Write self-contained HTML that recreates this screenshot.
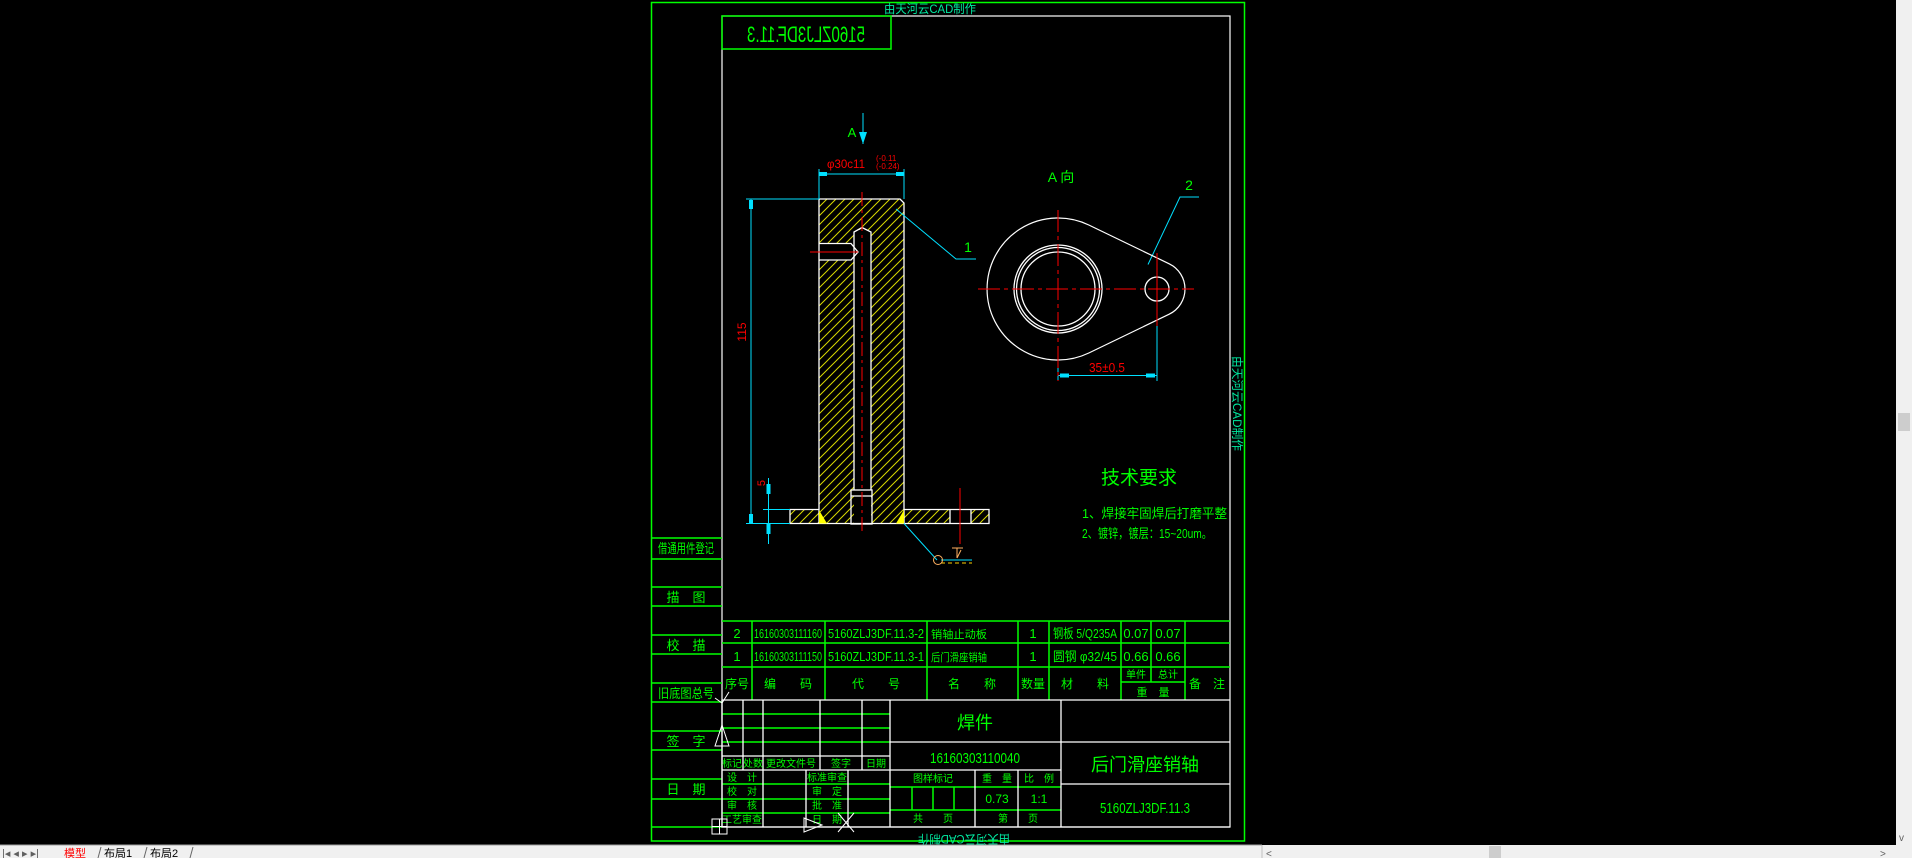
<!DOCTYPE html>
<html><head><meta charset="utf-8"><style>
html,body{margin:0;padding:0;background:#000;overflow:hidden}
svg{display:block}
text{font-family:"Liberation Sans","Noto Sans CJK SC",sans-serif;fill:#00ff00}
.c{text-anchor:middle}
.r{fill:#ff0000}
</style></head><body>
<svg width="1912" height="858" viewBox="0 0 1912 858" xmlns="http://www.w3.org/2000/svg">
<defs>
<pattern id="h" patternUnits="userSpaceOnUse" width="9" height="9">
<path d="M0 9L9 0M-2 2L2 -2M7 11L11 7" stroke="#d8d800" stroke-width="1"/>
</pattern>
</defs>
<rect width="1912" height="858" fill="#000"/>
<!-- frames -->
<rect x="651.5" y="2.5" width="593" height="838.5" fill="none" stroke="#00ff00" stroke-width="1.5"/>
<rect x="722" y="16" width="508" height="811" fill="none" stroke="#fff" stroke-width="1.2"/>
<rect x="722" y="16" width="169" height="33" fill="none" stroke="#00ff00" stroke-width="1.5"/>
<text x="806" y="42" class="c" font-size="22" transform="translate(1612 0) scale(-1 1)" textLength="118" lengthAdjust="spacingAndGlyphs">5160ZLJ3DF.11.3</text>
<text x="930" y="13" class="c" font-size="12" style="fill:#00e8a0" textLength="92" lengthAdjust="spacingAndGlyphs">由天河云CAD制作</text>
<text x="0" y="0" font-size="12" style="fill:#00e8a0" transform="translate(1233 356) rotate(90)" textLength="95" lengthAdjust="spacingAndGlyphs">由天河云CAD制作</text>
<text x="0" y="0" class="c" font-size="12" style="fill:#00e8a0" transform="translate(964 835) scale(-1 -1)" textLength="92" lengthAdjust="spacingAndGlyphs">由天河云CAD制作</text>

<!-- part section -->
<rect x="819" y="199" width="85" height="325" fill="url(#h)"/>
<rect x="790" y="509.5" width="29" height="14" fill="url(#h)"/>
<rect x="904" y="509.5" width="46" height="14" fill="url(#h)"/>
<rect x="971" y="509.5" width="18" height="14" fill="url(#h)"/>
<rect x="854" y="230" width="17" height="294" fill="#000"/>
<rect x="819" y="243.5" width="36" height="16.5" fill="#000"/>
<g fill="none" stroke="#fff" stroke-width="1.3">
<path d="M819 523.5V199H900L904 203V523.5"/>
<path d="M854 490V232L862 227.5L871 232V490"/>
<path d="M819 243.5H851L858 252L851 260H819"/>
<rect x="851" y="490" width="21" height="34"/>
<line x1="851" y1="496" x2="872" y2="496"/>
<path d="M819 509.5H790V523.5H989V509.5H904M950 509.5V523.5M971 509.5V523.5"/>
</g>
<path d="M819 510L827 523.5H819Z M904 510L896 523.5H904Z" fill="#ffff00"/>
<g stroke="#ff0000" stroke-width="1" stroke-dasharray="14 4 3 4">
<line x1="862" y1="192" x2="862" y2="533"/>
<line x1="810" y1="252" x2="858" y2="252" stroke-dasharray="none"/>
<line x1="960" y1="488" x2="960" y2="544" stroke-dasharray="none"/>
</g>
<!-- dims cyan -->
<g stroke="#00e0ff" stroke-width="1" fill="none">
<path d="M819 169V199M904 169V199M819 174H904"/>
<path d="M746 199H819M746 523.5H790M751 199V523.5"/>
<path d="M763 509.5H790M768.5 478V544"/>
<path d="M863 113V144"/>
<path d="M896 209L956 259H976"/>
<path d="M904 523.5L937 560M941 560H972"/>
<path d="M1058 381V360M1157 326V381M1058 375.5H1157"/>
<path d="M1148 264.5L1180 197H1199"/>
</g>
<g fill="#00e0ff">
<path d="M819 172h8v4h-8zM896 172h8v4h-8zM749 200h4v9h-4zM749 514h4v9h-4zM766.5 484h4v10h-4zM766.5 524h4v10h-4zM859 132h8l-4 12z"/>
<path d="M1060 373.5h9v4h-9zM1146 373.5h9v4h-9z"/>
</g>
<path d="M941 563H972" stroke="#ffd000" stroke-dasharray="4 3"/>
<circle cx="938" cy="560" r="4.5" fill="none" stroke="#ffb060"/>
<path d="M952 548H963M957 548V558M957 558L961 550" stroke="#ffb060" fill="none"/>
<text x="852" y="137" class="c" font-size="13">A</text>
<text x="846" y="168" class="c r" font-size="12" textLength="38" lengthAdjust="spacingAndGlyphs">φ30c11</text>
<text x="876" y="161" class="r" font-size="8">(-0.11</text>
<text x="876" y="169" class="r" font-size="8">(-0.24)</text>
<text x="0" y="0" class="c r" font-size="12" transform="translate(746 332) rotate(-90)">115</text>
<text x="0" y="0" class="c r" font-size="11" transform="translate(765 483) rotate(-90)">5</text>
<text x="968" y="252" class="c" font-size="14">1</text>

<!-- A view -->
<text x="1061" y="182" class="c" font-size="14">A 向</text>
<text x="1189" y="190" class="c" font-size="14">2</text>
<path d="M1088.8 225L1169.2 263.8A28 28 0 0 1 1169.2 314.2L1088.8 353A71 71 0 1 1 1088.8 225Z" fill="none" stroke="#fff" stroke-width="1.2"/>
<g fill="none" stroke="#fff" stroke-width="1.3">
<circle cx="1058" cy="289" r="44"/>
<circle cx="1058" cy="289" r="41.5"/>
<circle cx="1058" cy="289" r="37"/>
<circle cx="1157" cy="289" r="12"/>
</g>
<g stroke="#ff0000" stroke-width="1">
<line x1="978" y1="289" x2="1194" y2="289" stroke-dasharray="22 4 4 4"/>
<line x1="1058" y1="210" x2="1058" y2="381" stroke-dasharray="22 4 4 4"/>
<line x1="1157" y1="253" x2="1157" y2="326"/>
</g>
<text x="1107" y="372" class="c r" font-size="13" textLength="36" lengthAdjust="spacingAndGlyphs">35±0.5</text>

<!-- tech req -->
<text x="1139" y="484" class="c" font-size="19">技术要求</text>
<text x="1082" y="518" font-size="13" textLength="145" lengthAdjust="spacingAndGlyphs">1、焊接牢固焊后打磨平整</text>
<text x="1082" y="538" font-size="13" textLength="130" lengthAdjust="spacingAndGlyphs">2、镀锌，镀层：15~20um。</text>

<!-- left column -->
<g stroke="#00ff00" stroke-width="1.5">
<line x1="651" y1="538" x2="722" y2="538"/>
<line x1="651" y1="559" x2="722" y2="559"/>
<line x1="651" y1="587" x2="722" y2="587"/><line x1="651" y1="606" x2="722" y2="606"/>
<line x1="651" y1="635" x2="722" y2="635"/><line x1="651" y1="654" x2="722" y2="654"/>
<line x1="651" y1="683" x2="722" y2="683"/><line x1="651" y1="702" x2="722" y2="702"/>
<line x1="651" y1="731" x2="722" y2="731"/><line x1="651" y1="750" x2="722" y2="750"/>
<line x1="651" y1="779" x2="722" y2="779"/><line x1="651" y1="799" x2="722" y2="799"/>
<line x1="651" y1="827" x2="722" y2="827"/>
</g>
<g font-size="13">
<text x="686" y="553" class="c" textLength="56" lengthAdjust="spacingAndGlyphs">借通用件登记</text>
<text x="686" y="602" class="c">描　图</text>
<text x="686" y="650" class="c">校　描</text>
<text x="686" y="698" class="c" textLength="56" lengthAdjust="spacingAndGlyphs">旧底图总号</text>
<text x="686" y="746" class="c">签　字</text>
<text x="686" y="794" class="c">日　期</text>
</g>

<!-- BOM -->
<g stroke="#00ff00" stroke-width="1.5" fill="none">
<path d="M722 621H1230M722 643H1230M722 667H1230M1121 682H1185"/>
<path d="M752 621V700M825 621V700M927 621V700M1018 621V700M1049 621V700M1121 621V700M1151 621V682M1185 621V700"/>
</g>
<line x1="722" y1="700" x2="1230" y2="700" stroke="#fff" stroke-width="1.3"/>
<g font-size="13">
<text x="737" y="638" class="c">2</text><text x="737" y="661" class="c">1</text>
<text x="788" y="638" class="c" textLength="68" lengthAdjust="spacingAndGlyphs">16160303111160</text>
<text x="788" y="661" class="c" textLength="68" lengthAdjust="spacingAndGlyphs">16160303111150</text>
<text x="876" y="638" class="c" textLength="96" lengthAdjust="spacingAndGlyphs">5160ZLJ3DF.11.3-2</text>
<text x="876" y="661" class="c" textLength="96" lengthAdjust="spacingAndGlyphs">5160ZLJ3DF.11.3-1</text>
<text x="931" y="638" font-size="11" textLength="56" lengthAdjust="spacingAndGlyphs">销轴止动板</text>
<text x="931" y="661" font-size="11" textLength="56" lengthAdjust="spacingAndGlyphs">后门滑座销轴</text>
<text x="1033" y="638" class="c">1</text><text x="1033" y="661" class="c">1</text>
<text x="1085" y="638" class="c" textLength="64" lengthAdjust="spacingAndGlyphs">钢板 5/Q235A</text>
<text x="1085" y="661" class="c" textLength="64" lengthAdjust="spacingAndGlyphs">圆钢 φ32/45</text>
<text x="1136" y="638" class="c">0.07</text><text x="1168" y="638" class="c">0.07</text>
<text x="1136" y="661" class="c">0.66</text><text x="1168" y="661" class="c">0.66</text>
<g font-size="12">
<text x="737" y="688" class="c">序号</text>
<text x="788" y="688" class="c">编　　码</text>
<text x="876" y="688" class="c">代　　号</text>
<text x="972" y="688" class="c">名　　称</text>
<text x="1033" y="688" class="c">数量</text>
<text x="1085" y="688" class="c">材　　料</text>
<text x="1136" y="678" class="c" font-size="10">单件</text>
<text x="1168" y="678" class="c" font-size="10">总计</text>
<text x="1153" y="696" class="c" font-size="11">重　量</text>
<text x="1207" y="688" class="c">备　注</text>
</g>
</g>

<!-- title block -->
<g stroke="#00ff00" stroke-width="1.5" fill="none">
<path d="M722 714H890M722 728H890M722 742H890M722 784H890M722 799H890M722 813H890"/>
<path d="M890 787H1061M890 810H1061M912 787V810M933 787V810M954 787V810"/>
</g>
<g stroke="#fff" stroke-width="1.3" fill="none">
<path d="M722 700V827H1230M743 700V770M763 700V827M820 700V770M862 700V770M806 770V827M848 770V827M890 700V827"/>
<path d="M722 756H890M722 770H1061M890 742H1230M1061 700V827M1061 784H1230"/>
<path d="M975 770V827M1018 770V827"/>
</g>
<g font-size="10">
<text x="732" y="767" class="c">标记</text><text x="753" y="767" class="c">处数</text>
<text x="791" y="767" class="c">更改文件号</text><text x="841" y="767" class="c">签字</text><text x="876" y="767" class="c">日期</text>
<text x="742" y="781" class="c">设　计</text><text x="742" y="795" class="c">校　对</text>
<text x="742" y="809" class="c">审　核</text><text x="742" y="823" class="c">工艺审查</text>
<text x="827" y="781" class="c">标准审查</text><text x="827" y="795" class="c">审　定</text>
<text x="827" y="809" class="c">批　准</text><text x="827" y="823" class="c">日　期</text>
<text x="933" y="782" class="c">图样标记</text><text x="997" y="782" class="c">重　量</text><text x="1039" y="782" class="c">比　例</text>
<text x="933" y="822" class="c">共　　页</text><text x="1018" y="822" class="c">第　　页</text>
</g>
<text x="997" y="803" class="c" font-size="12">0.73</text>
<text x="1039" y="803" class="c" font-size="12">1:1</text>
<text x="975" y="729" class="c" font-size="18">焊件</text>
<text x="975" y="763" class="c" font-size="15" textLength="90" lengthAdjust="spacingAndGlyphs">16160303110040</text>
<text x="1145" y="771" class="c" font-size="18">后门滑座销轴</text>
<text x="1145" y="813" class="c" font-size="15" textLength="90" lengthAdjust="spacingAndGlyphs">5160ZLJ3DF.11.3</text>
<!-- misc white marks -->
<g stroke="#fff" stroke-width="1" fill="none">
<path d="M715 698L722 703L729 692M722 703V712"/>
<path d="M722 725L715 746H729Z"/>
<rect x="712" y="819" width="15" height="15"/><path d="M719.5 819V834M712 826.5H727"/>
<path d="M804 818V832L822 825Z"/>
<path d="M838 813L854 832M854 813L838 832"/>
</g>

<!-- UI chrome -->
<rect x="0" y="845" width="1912" height="13" fill="#f0f0f0"/>
<line x1="0" y1="845" x2="1262" y2="845" stroke="#a0a0a0"/>
<g fill="#606060" font-size="11">
<text x="2" y="857" style="fill:#606060">|◂ ◂ ▸ ▸|</text>
</g>
<text x="64" y="857" font-size="11" style="fill:#ff0000">模型</text>
<text x="104" y="857" font-size="11" style="fill:#000">布局1</text>
<text x="150" y="857" font-size="11" style="fill:#000">布局2</text>
<path d="M98 858L101 847M144 858L147 847M190 858L193 847" stroke="#666"/>
<rect x="1262" y="846" width="634" height="12" fill="#f0f0f0"/>
<line x1="1262" y1="845" x2="1262" y2="858" stroke="#c0c0c0"/>
<rect x="1489" y="846" width="12" height="12" fill="#cdcdcd"/>
<text x="1266" y="857" font-size="10" style="fill:#606060">&lt;</text>
<text x="1880" y="857" font-size="10" style="fill:#606060">&gt;</text>
<rect x="1896" y="0" width="16" height="845" fill="#f0f0f0"/>
<rect x="1898" y="413" width="12" height="18" fill="#cdcdcd"/>
<text x="1899" y="841" font-size="10" style="fill:#606060">v</text>
</svg>
</body></html>
